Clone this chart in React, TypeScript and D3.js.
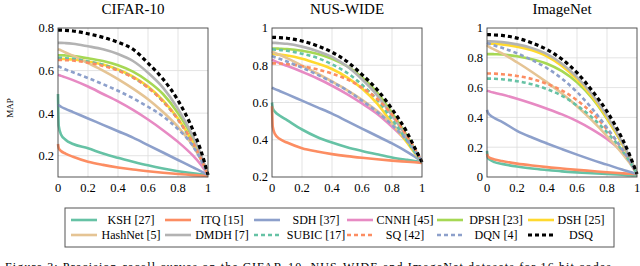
import React from 'react';
import * as d3 from 'd3';

// recall grid shared by every curve
const recall = [0, 0.005, 0.02, 0.05, 0.1, 0.2, 0.3, 0.4, 0.5, 0.6, 0.7, 0.8, 0.9, 0.95, 1];

const methods = ['KSH [27]', 'ITQ [15]', 'SDH [37]', 'CNNH [45]', 'DPSH [23]', 'DSH [25]',
  'HashNet [5]', 'DMDH [7]', 'SUBIC [17]', 'SQ [42]', 'DQN [4]', 'DSQ'];

const datasets = ['CIFAR-10', 'NUS-WIDE', 'ImageNet'];

// precision per method (rows in the order of `methods`)
const cifarMap = [
  [0.49, 0.34, 0.30, 0.275, 0.255, 0.235, 0.21, 0.19, 0.172, 0.155, 0.14, 0.127, 0.117, 0.113, 0.11],
  [0.255, 0.235, 0.222, 0.21, 0.195, 0.172, 0.157, 0.145, 0.135, 0.127, 0.12, 0.114, 0.109, 0.107, 0.105],
  [0.44, 0.437, 0.43, 0.42, 0.405, 0.375, 0.345, 0.315, 0.285, 0.25, 0.215, 0.18, 0.145, 0.128, 0.11],
  [0.58, 0.579, 0.575, 0.568, 0.555, 0.525, 0.49, 0.455, 0.415, 0.37, 0.32, 0.265, 0.2, 0.16, 0.11],
  [0.672, 0.672, 0.672, 0.671, 0.668, 0.658, 0.645, 0.625, 0.595, 0.55, 0.49, 0.40, 0.28, 0.20, 0.11],
  [0.655, 0.655, 0.655, 0.654, 0.652, 0.642, 0.628, 0.605, 0.572, 0.525, 0.46, 0.375, 0.26, 0.19, 0.11],
  [0.70, 0.699, 0.695, 0.685, 0.67, 0.635, 0.60, 0.56, 0.515, 0.465, 0.405, 0.335, 0.245, 0.185, 0.11],
  [0.73, 0.73, 0.73, 0.729, 0.726, 0.714, 0.70, 0.678, 0.645, 0.59, 0.52, 0.42, 0.29, 0.21, 0.11],
  [0.66, 0.66, 0.66, 0.658, 0.655, 0.643, 0.627, 0.603, 0.568, 0.52, 0.455, 0.37, 0.255, 0.19, 0.11],
  [0.65, 0.65, 0.65, 0.649, 0.647, 0.637, 0.622, 0.60, 0.567, 0.52, 0.455, 0.37, 0.26, 0.19, 0.11],
  [0.62, 0.619, 0.614, 0.605, 0.592, 0.565, 0.536, 0.505, 0.47, 0.43, 0.385, 0.325, 0.245, 0.185, 0.11],
  [0.79, 0.79, 0.79, 0.789, 0.786, 0.773, 0.756, 0.733, 0.70, 0.635, 0.56, 0.46, 0.32, 0.23, 0.11],
];

const nusMap = [
  [0.6, 0.57, 0.55, 0.53, 0.505, 0.455, 0.415, 0.385, 0.36, 0.34, 0.322, 0.305, 0.292, 0.286, 0.28],
  [0.58, 0.47, 0.43, 0.405, 0.385, 0.355, 0.337, 0.323, 0.312, 0.303, 0.295, 0.288, 0.282, 0.279, 0.276],
  [0.68, 0.678, 0.672, 0.662, 0.645, 0.61, 0.575, 0.54, 0.5, 0.46, 0.42, 0.38, 0.335, 0.31, 0.28],
  [0.83, 0.828, 0.822, 0.812, 0.797, 0.765, 0.73, 0.69, 0.645, 0.595, 0.54, 0.47, 0.39, 0.34, 0.28],
  [0.89, 0.89, 0.89, 0.889, 0.887, 0.878, 0.862, 0.835, 0.795, 0.735, 0.655, 0.545, 0.42, 0.35, 0.28],
  [0.86, 0.86, 0.859, 0.857, 0.852, 0.835, 0.81, 0.78, 0.735, 0.675, 0.595, 0.49, 0.385, 0.33, 0.28],
  [0.875, 0.872, 0.866, 0.856, 0.838, 0.798, 0.757, 0.713, 0.667, 0.615, 0.555, 0.485, 0.4, 0.348, 0.28],
  [0.92, 0.92, 0.92, 0.918, 0.915, 0.9, 0.877, 0.845, 0.795, 0.725, 0.64, 0.53, 0.41, 0.34, 0.28],
  [0.885, 0.885, 0.884, 0.882, 0.878, 0.862, 0.84, 0.805, 0.76, 0.695, 0.615, 0.51, 0.395, 0.335, 0.28],
  [0.81, 0.81, 0.81, 0.809, 0.806, 0.795, 0.778, 0.755, 0.725, 0.68, 0.62, 0.535, 0.42, 0.355, 0.28],
  [0.85, 0.848, 0.843, 0.835, 0.82, 0.787, 0.75, 0.71, 0.665, 0.61, 0.55, 0.48, 0.395, 0.345, 0.28],
  [0.95, 0.95, 0.95, 0.948, 0.945, 0.93, 0.905, 0.87, 0.82, 0.75, 0.67, 0.565, 0.44, 0.36, 0.28],
];

const imagenetMap = [
  [0.175, 0.13, 0.115, 0.1, 0.088, 0.07, 0.057, 0.047, 0.038, 0.031, 0.025, 0.02, 0.015, 0.012, 0.01],
  [0.155, 0.14, 0.128, 0.118, 0.107, 0.09, 0.077, 0.066, 0.057, 0.048, 0.04, 0.032, 0.025, 0.022, 0.02],
  [0.45, 0.435, 0.415, 0.395, 0.37, 0.31, 0.265, 0.225, 0.187, 0.15, 0.115, 0.083, 0.05, 0.035, 0.02],
  [0.58, 0.578, 0.573, 0.565, 0.553, 0.525, 0.493, 0.458, 0.42, 0.375, 0.32, 0.255, 0.17, 0.11, 0.02],
  [0.825, 0.825, 0.825, 0.824, 0.822, 0.81, 0.79, 0.76, 0.71, 0.635, 0.53, 0.39, 0.225, 0.13, 0.02],
  [0.895, 0.895, 0.895, 0.894, 0.89, 0.875, 0.85, 0.81, 0.745, 0.655, 0.54, 0.395, 0.225, 0.13, 0.02],
  [0.885, 0.88, 0.87, 0.855, 0.83, 0.77, 0.705, 0.635, 0.56, 0.475, 0.38, 0.275, 0.16, 0.095, 0.02],
  [0.91, 0.91, 0.91, 0.909, 0.905, 0.89, 0.865, 0.825, 0.76, 0.67, 0.555, 0.41, 0.235, 0.135, 0.02],
  [0.66, 0.66, 0.66, 0.659, 0.656, 0.643, 0.622, 0.59, 0.545, 0.48, 0.4, 0.3, 0.18, 0.105, 0.02],
  [0.695, 0.695, 0.695, 0.694, 0.69, 0.678, 0.658, 0.625, 0.58, 0.515, 0.43, 0.32, 0.19, 0.11, 0.02],
  [0.9, 0.898, 0.892, 0.882, 0.867, 0.83, 0.785, 0.73, 0.66, 0.57, 0.46, 0.33, 0.19, 0.11, 0.02],
  [0.955, 0.955, 0.955, 0.953, 0.95, 0.932, 0.9, 0.855, 0.79, 0.7, 0.58, 0.44, 0.26, 0.15, 0.02],
];

const xTicks = [0, 0.2, 0.4, 0.6, 0.8, 1];
const yTicksCifar = [0.2, 0.4, 0.6, 0.8];
const yTicksNus = [0.2, 0.4, 0.6, 0.8, 1];
const yTicksImagenet = [0, 0.2, 0.4, 0.6, 0.8, 1];

const colors = ['#66c2a5', '#fc8d62', '#8da0cb', '#e78ac3', '#a6d854', '#ffd92f',
  '#e5c494', '#b3b3b3', '#66c2a5', '#fc8d62', '#8da0cb', '#000000'];
const dashed = [false, false, false, false, false, false, false, false, true, true, true, true];

const serif = 'Liberation Serif, Times New Roman, serif';

const panels = [
  { title: datasets[0], data: cifarMap, ticks: yTicksCifar, domain: [0.1, 0.8], left: 58 },
  { title: datasets[1], data: nusMap, ticks: yTicksNus, domain: [0.2, 1], left: 272 },
  { title: datasets[2], data: imagenetMap, ticks: yTicksImagenet, domain: [0, 1], left: 487 },
];

const top = 28;
const plotW = 150;
const plotH = 149;

function Panel({ title, data, ticks, domain, left }) {
  const x = d3.scaleLinear().domain([0, 1]).range([left, left + plotW]);
  const y = d3.scaleLinear().domain(domain).range([top + plotH, top]);
  const line = d3.line<number>()
    .x((_, i) => x(recall[i]))
    .y(d => y(d))
    .curve(d3.curveMonotoneX);
  const fmt = (v: number) => (v === 0 || v === 1 ? String(v) : d3.format('.1f')(v));

  return (
    <g>
      <text x={x(0.5)} y={14} textAnchor="middle" fontSize={15} fontFamily={serif}>{title}</text>
      <defs>
        <clipPath id={`clip-${left}`}>
          <rect x={left - 2} y={top - 3} width={plotW + 4} height={plotH + 5} />
        </clipPath>
      </defs>
      {xTicks.slice(1, -1).map(t => (
        <line key={'gx' + t} x1={x(t)} x2={x(t)} y1={top} y2={top + plotH} stroke="#dcdcdc" strokeWidth={0.8} />
      ))}
      {ticks.filter(t => t > domain[0] && t < domain[1]).map(t => (
        <line key={'gy' + t} x1={left} x2={left + plotW} y1={y(t)} y2={y(t)} stroke="#dcdcdc" strokeWidth={0.8} />
      ))}
      <g clipPath={`url(#clip-${left})`}>
        {data.map((row, i) => (
          <path key={i} d={line(row) || ''} fill="none" stroke={colors[i]}
            strokeWidth={i === 11 ? 3.2 : 2.6}
            strokeDasharray={dashed[i] ? '4,3' : undefined} />
        ))}
      </g>
      <rect x={left} y={top} width={plotW} height={plotH} fill="none" stroke="#444" strokeWidth={0.9} />
      {xTicks.map(t => (
        <text key={'tx' + t} x={x(t)} y={top + plotH + 15} textAnchor="middle" fontSize={12.5} fontFamily={serif}>{fmt(t)}</text>
      ))}
      {ticks.map(t => (
        <text key={'ty' + t} x={left - 4} y={y(t)} dy="0.35em" textAnchor="end" fontSize={12.5} fontFamily={serif}>{fmt(t)}</text>
      ))}
    </g>
  );
}

const legendCols = [71, 165, 254, 347, 437, 528];
const legendTextX = [131, 222, 316, 405, 496, 581];
const legendRows = [220, 235];

export default function App() {
  return (
    <svg width={640} height={266} style={{ position: 'absolute', left: 0, top: 0, background: '#fff' }}>
      <text transform="translate(13,108) rotate(-90)" textAnchor="middle" fontSize={9} fontFamily={serif}>MAP</text>
      {panels.map(p => <Panel key={p.title} {...p} />)}
      <rect x={65} y={208} width={549} height={39} fill="#fff" stroke="#555" strokeWidth={1} />
      {methods.map((m, i) => {
        const col = i % 6;
        const row = Math.floor(i / 6);
        const ly = legendRows[row];
        return (
          <g key={m}>
            <line x1={legendCols[col]} x2={legendCols[col] + 26} y1={ly} y2={ly} stroke={colors[i]}
              strokeWidth={i === 11 ? 3.2 : 2.6} strokeDasharray={dashed[i] ? '4,3' : undefined} />
            <text x={legendTextX[col]} y={ly} dy="0.35em" textAnchor="middle" fontSize={12} fontFamily={serif}>{m}</text>
          </g>
        );
      })}
      <text x={5} y={271} fontSize={12} textLength={610} fontFamily={serif}>
        Figure 3: Precision-recall curves on the CIFAR-10, NUS-WIDE and ImageNet datasets for 16 bit codes.
      </text>
    </svg>
  );
}
